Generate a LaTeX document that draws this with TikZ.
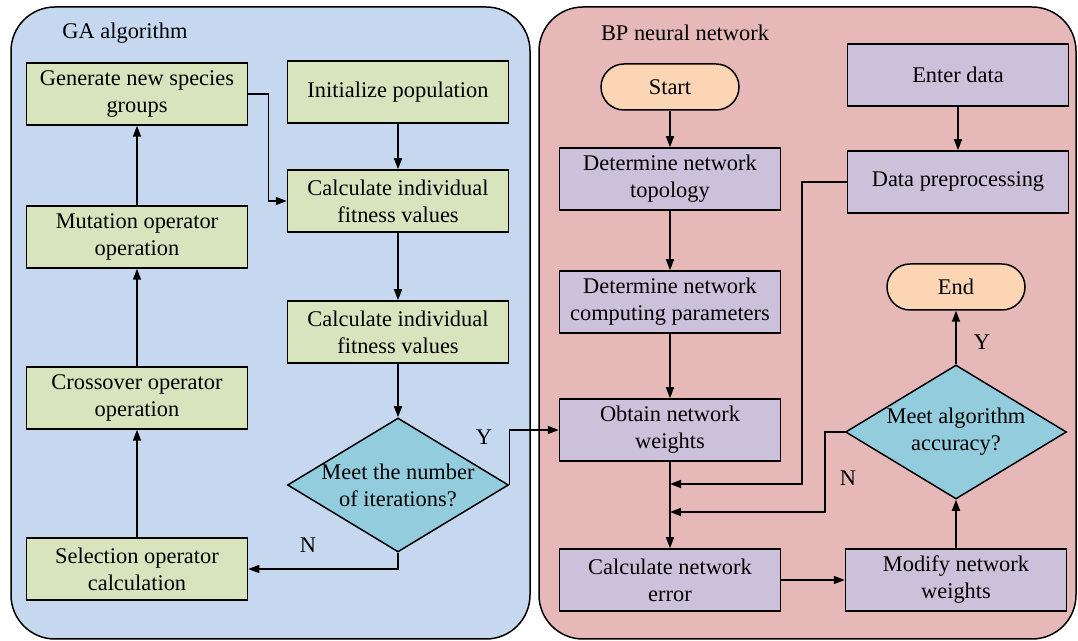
\documentclass[tikz,border=0pt]{standalone}
\usepackage{fontspec}
\setmainfont{Liberation Serif}
\usetikzlibrary{arrows.meta,shapes.geometric,calc}
\definecolor{GaPanel}{HTML}{C6D8EF}
\definecolor{BpPanel}{HTML}{E6B9B8}
\definecolor{GaBox}{HTML}{D7E4BD}
\definecolor{BpBox}{HTML}{CCC1DA}
\definecolor{JudgeBlue}{HTML}{93CDDD}
\definecolor{TermPeach}{HTML}{FCD5B5}

\begin{document}
\begin{tikzpicture}[x=0.5pt, y=-0.5pt, font=\fontsize{11.2}{13.5}\selectfont,
  panel/.style={draw=black, line width=0.75pt, rounded corners=22pt},
  gbox/.style={draw=black, line width=0.75pt, fill=GaBox, minimum width=110.5pt,
               minimum height=31pt, align=center, inner sep=1pt},
  pbox/.style={gbox, fill=BpBox},
  judge/.style={diamond, draw=black, line width=0.75pt, fill=JudgeBlue, aspect=1.65,
                inner sep=-6pt, minimum width=110.5pt, minimum height=67pt, align=center},
  term/.style={draw=black, line width=0.75pt, fill=TermPeach, rounded corners=11.5pt,
               minimum width=69pt, minimum height=23pt},
  ln/.style={line width=0.75pt},
  ar/.style={ln, -{Triangle[length=5.5pt, width=4pt]}}]
\useasboundingbox (0,0) rectangle (1078,641);
% panels
\draw[panel, fill=GaPanel] (11,7) rectangle (530,639);
\draw[panel, fill=BpPanel] (539,7) rectangle (1076,639);
\node (gatitle) at (125,33) {GA algorithm};
\node (bptitle) at (685,33) {BP neural network};
% GA side
\node[gbox] (gen)   at (137,94)  {Generate new species\\groups};
\node[gbox] (mut)   at (137,237) {Mutation operator\\operation};
\node[gbox] (cross) at (137,398) {Crossover operator\\operation};
\node[gbox] (sel)   at (137,569) {Selection operator\\calculation};
\node[gbox] (init)  at (398,92)  {Initialize population};
\node[gbox] (fit1)  at (398,201) {Calculate individual\\fitness values};
\node[gbox] (fit2)  at (398,332) {Calculate individual\\fitness values};
\node[judge] (iter) at (398,485) {Meet the number\\of iterations?};
% BP side
\node[term] (start) at (670,87)  {Start};
\node[pbox] (topo)  at (670,179) {Determine network\\topology};
\node[pbox] (param) at (670,302) {Determine network\\computing parameters};
\node[pbox] (obt)   at (670,430) {Obtain network\\weights};
\node[pbox] (err)   at (670,580) {Calculate network\\error};
\node[pbox] (enter) at (958,75)  {Enter data};
\node[pbox] (prep)  at (958,182) {Data preprocessing};
\node[term] (end)   at (956,287) {End};
\node[judge] (acc)  at (956,432) {Meet algorithm\\accuracy?};
\node[pbox] (mod)   at (956,580) {Modify network\\weights};
\coordinate (m1) at (670,484);
\coordinate (m2) at (670,512);
% GA connectors
\draw[ar] (init) -- (fit1);
\draw[ar] (fit1) -- (fit2);
\draw[ar] (fit2) -- (iter);
\draw[ar] (iter.south) |- (sel.east);
\draw[ar] (sel) -- (cross);
\draw[ar] (cross) -- (mut);
\draw[ar] (mut) -- (gen);
\draw[ar] (gen.east) -- ++(10pt,0) |- (fit1.west);
\draw[ar] (iter.east) |- (obt.west);
\node (ylab1) at (484,437) {Y};
\node (nlab1) at (308,545) {N};
% BP connectors
\draw[ar] (start) -- (topo);
\draw[ar] (topo) -- (param);
\draw[ar] (param) -- (obt);
\draw[ar] (obt) -- (err);
\draw[ar] (enter) -- (prep);
\draw[ar] (prep.west) -- ++(-22.5pt,0) |- (m1);
\draw[ar] (acc.west) -- ++(-10pt,0) |- (m2);
\draw[ar] (err) -- (mod);
\draw[ar] (mod) -- (acc);
\draw[ar] (acc) -- (end);
\node (ylab2) at (982,342) {Y};
\node (nlab2) at (848,478) {N};
\end{tikzpicture}
\end{document}
